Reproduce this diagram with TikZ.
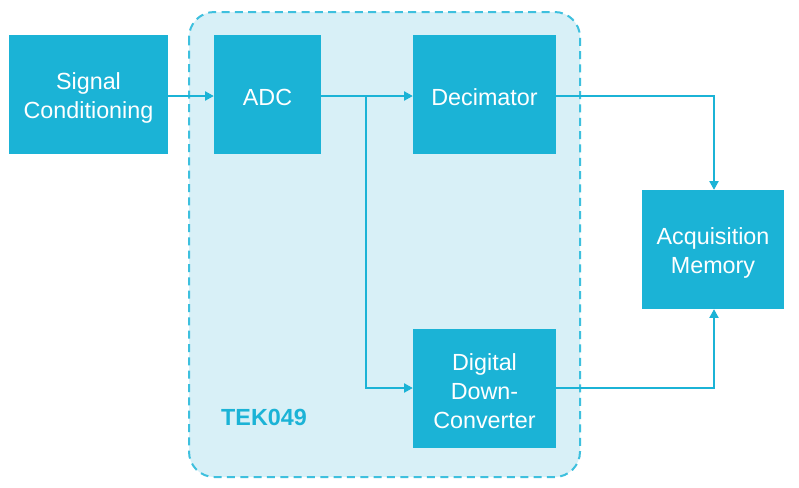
\documentclass[tikz,border=0pt]{standalone}
\usepackage{fontspec}
\setmainfont{Liberation Sans}
\usetikzlibrary{arrows.meta}
\definecolor{boxc}{HTML}{1BB3D6}
\definecolor{lightc}{HTML}{D8F0F7}
\definecolor{dashc}{HTML}{3EC0DE}
\tikzset{
  blk/.style={fill=boxc, draw=none, inner sep=0pt, minimum height=89.25pt},
  blktext/.style={text=white, font=\fontsize{17.5}{21.8}\selectfont, align=center, inner sep=0pt, yshift=-2.3pt},
  conn/.style={draw=boxc, line width=0.8pt, -{Triangle[length=6.5pt,width=7pt]}}
}
\begin{document}
\begin{tikzpicture}[x=0.75pt,y=-0.75pt]
\useasboundingbox (0,0) rectangle (799,487);
\fill[white] (0,0) rectangle (799,487);
\draw[fill=lightc, draw=dashc, line width=1.5pt, dash pattern=on 6pt off 4pt, rounded corners=19pt] (189,12) rectangle (580,477);
\node[blk, minimum width=119.25pt, label={[blktext]center:{Signal\\Conditioning}}] (sc) at (88.5,94.5) {};
\node[blk, minimum width=80.25pt, label={[blktext]center:{ADC}}] (adc) at (267.5,94.5) {};
\node[blk, minimum width=107.25pt, label={[blktext]center:{Decimator}}] (dec) at (484.5,94.5) {};
\node[blk, minimum width=107.25pt, label={[blktext]center:{Digital\\Down-\\Converter}}] (ddc) at (484.5,388.5) {};
\node[blk, minimum width=106.5pt, label={[blktext]center:{Acquisition\\Memory}}] (acq) at (713,249.5) {};
\node[text=boxc, font=\bfseries\fontsize{17.5}{21}\selectfont, anchor=center] (tek) at (264,417) {TEK049};
\coordinate (br) at (366,96);
\coordinate (c1) at (714,96);
\coordinate (c2) at (714,388);
\draw[conn] (sc.east |- 0,96) -- (adc.west |- 0,96);
\draw[conn] (adc.east |- 0,96) -- (dec.west |- 0,96);
\draw[conn] (br) -- (366,388) -- (ddc.west |- 0,388);
\draw[conn] (dec.east |- 0,96) -- (c1) -- (acq.north -| c1);
\draw[conn] (ddc.east |- 0,388) -- (c2) -- (acq.south -| c2);
\end{tikzpicture}
\end{document}
